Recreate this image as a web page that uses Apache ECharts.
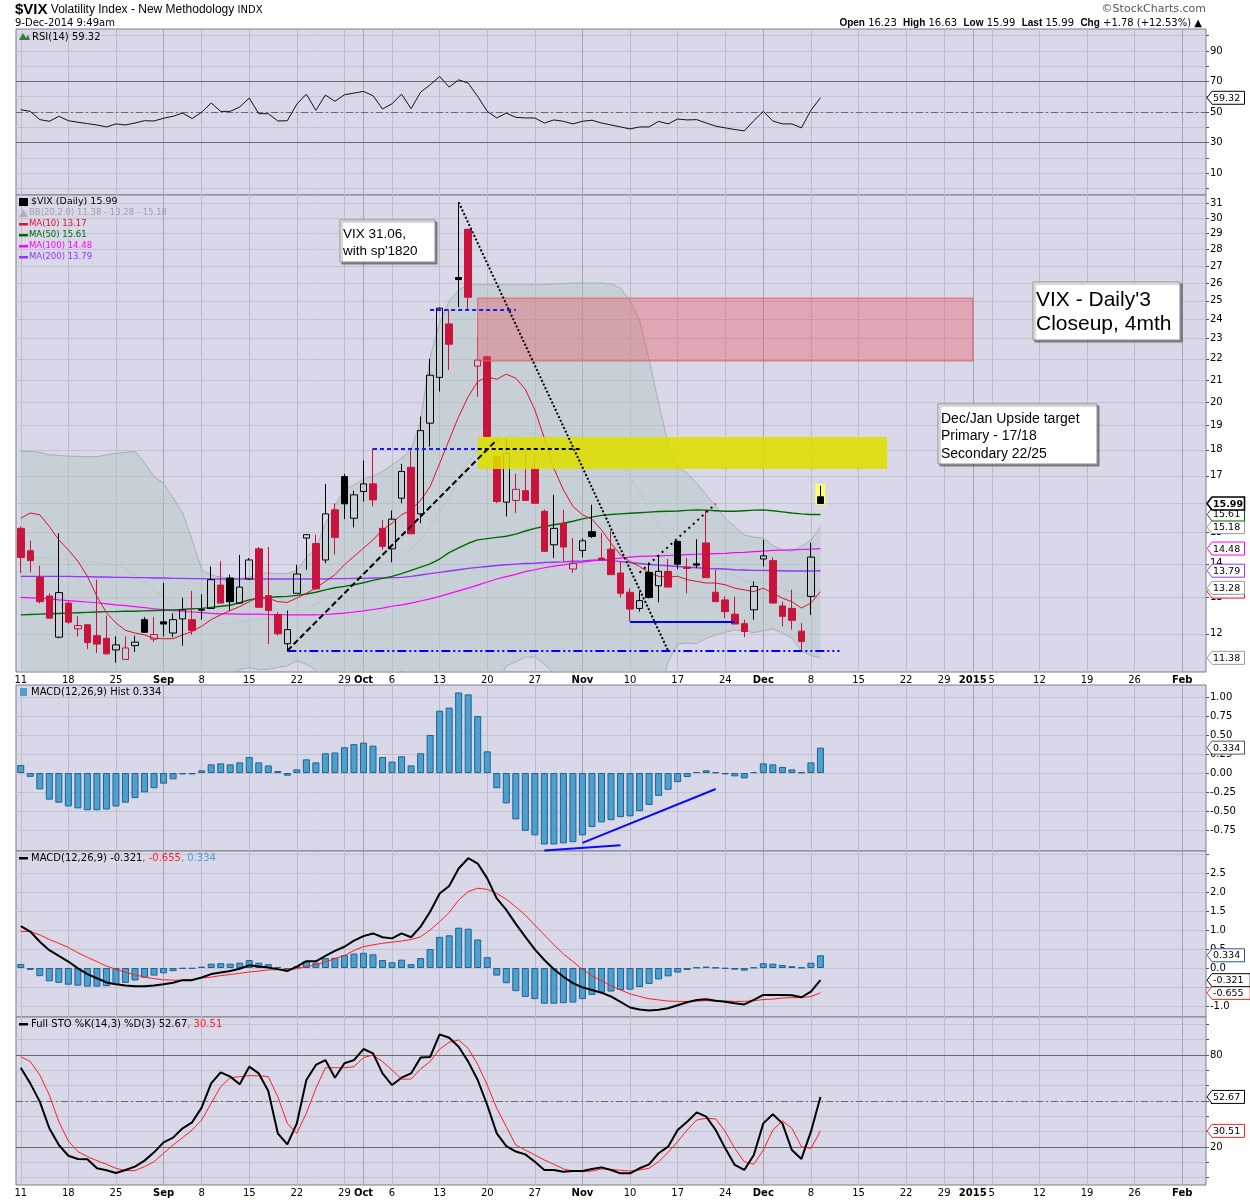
<!DOCTYPE html>
<html>
<head>
<meta charset="utf-8">
<script src="https://cdn.jsdelivr.net/npm/echarts@6/dist/echarts.min.js"></script>
<style>
html,body{margin:0;padding:0;background:#fff}
#chart{width:1250px;height:1200px}
</style>
</head>
<body>
<div id="chart"></div>
<script>
// ---- calendar ----
var firstDay = '2014-08-11';
var dayCount = 125;
var holidays = ['2014-09-01','2014-11-27','2014-12-25'];
var tickDates = ['2014-08-11','2014-08-18','2014-08-25','2014-09-02','2014-09-08','2014-09-15','2014-09-22','2014-09-29','2014-10-01','2014-10-06','2014-10-13','2014-10-20','2014-10-27','2014-11-03','2014-11-10','2014-11-17','2014-11-24','2014-12-01','2014-12-08','2014-12-15','2014-12-22','2014-12-29','2015-01-01','2015-01-05','2015-01-12','2015-01-19','2015-01-26','2015-02-02'];
var tickText = ['11','18','25','Sep','8','15','22','29','Oct','6','13','20','27','Nov','10','17','24','Dec','8','15','22','29','2015','5','12','19','26','Feb'];
var monthTicks = ['Sep','Oct','Nov','Dec','2015','Feb'];

// ---- price (daily candles, Aug 11 - Dec 9 2014) ----
var open  = [15.14,14.41,13.59,13.04,11.91,12.84,12.13,12.24,11.95,11.88, 11.58,11.34,11.69,12.38,11.86,12.32,12.02,12.40,12.38,12.64, 12.69,13.36,13.57,12.84,13.54,14.47,13.05,12.52,11.74,13.12, 14.82,14.64,14.12,15.77,16.97,15.48,16.42,16.70,15.14,14.47, 16.18,17.32,15.63,19.09,21.12,23.76,26.32,29.27,21.65,22.10, 17.73,16.04,16.10,16.45,17.25,15.72,14.60,15.31,13.84,14.42, 15.03,14.18,14.46,13.72,13.15,12.69,13.74,13.34,13.77,14.71, 13.90,14.00,14.66,13.15,12.93,12.53,12.27,12.65,14.15,14.10, 12.76,12.69,12.07,13.03,16.23];
var high  = [15.20,14.73,13.94,13.12,14.98,12.88,12.47,12.25,13.52,12.49, 11.93,11.93,11.95,12.45,12.45,13.42,12.55,12.99,13.19,13.09, 13.92,14.08,13.67,14.28,14.18,14.53,14.53,12.58,12.63,13.97, 14.93,14.93,16.70,16.00,17.07,16.45,17.58,18.06,15.42,15.75, 17.45,17.98,19.37,22.00,24.64,24.53,31.06,29.30,23.10,22.15, 17.75,18.47,17.08,18.02,17.89,15.78,16.30,15.77,14.82,14.81, 15.95,14.98,15.06,14.07,13.26,13.17,14.04,14.28,14.15,14.73, 14.18,14.78,15.77,13.82,13.03,13.02,12.38,13.47,14.76,14.20, 12.88,13.22,12.29,14.67,16.63];
var low   = [13.72,13.74,12.83,12.41,11.88,12.27,11.93,11.60,11.50,11.47, 11.26,11.34,11.53,12.02,11.79,11.93,11.91,11.69,11.97,12.38, 12.69,12.84,12.63,12.82,13.52,12.72,11.73,11.95,11.55,13.12, 13.82,13.22,14.02,14.29,15.45,15.17,16.06,15.89,14.44,14.05, 16.00,14.96,15.31,18.13,20.47,21.46,24.66,24.53,20.23,18.50, 16.00,15.54,15.66,16.10,15.98,14.39,14.18,14.07,13.72,14.20, 14.82,14.13,13.67,13.00,12.33,12.60,12.97,12.86,13.30,13.84, 13.12,13.87,13.58,12.88,12.42,12.26,11.91,12.38,13.92,12.84, 12.20,12.11,11.54,12.51,15.99];
var close = [14.20,14.10,12.88,12.42,13.14,12.31,12.22,11.77,11.73,11.48, 11.71,11.63,11.78,12.04,11.98,12.26,12.38,12.65,12.09,12.66, 13.52,12.84,12.88,13.30,14.12,12.72,12.63,12.00,12.11,13.69, 14.93,13.25,15.63,14.84,15.98,16.30,16.70,16.12,14.55,15.45, 17.16,14.96,18.78,21.22,24.60,22.72,26.20,25.20,21.94,18.54, 16.06,17.86,16.50,16.10,16.00,14.39,15.14,14.53,14.02,14.73, 14.87,14.13,13.67,13.12,12.67,12.91,13.00,13.77,13.30,13.99, 13.86,13.96,13.58,12.88,12.60,12.26,12.06,13.32,14.25,12.84, 12.47,12.36,11.80,14.21,15.99];

// ---- overlays ----
var ma10  = [15.48,15.66,15.60,15.20,14.76,14.44,14.08,13.62,13.03,12.57, 12.29,12.09,12.02,11.97,11.88,11.87,11.87,11.97,12.06,12.20, 12.38,12.51,12.63,12.74,12.88,13.01,12.98,12.88,12.86,12.98, 13.12,13.27,13.47,13.67,13.97,14.23,14.49,14.76,15.09,15.31, 15.60,15.77,16.10,16.60,17.47,18.40,19.37,20.24,20.92,21.15, 21.03,21.27,21.08,20.57,19.66,18.47,17.28,16.48,15.89,15.60, 15.45,15.09,14.65,14.28,14.07,13.92,13.72,13.62,13.60,13.62, 13.52,13.47,13.42,13.42,13.37,13.27,13.22,13.17,13.27,13.12, 12.98,12.88,12.70,12.84,13.17];
var ma50  = [12.51,12.52,12.53,12.54,12.55,12.56,12.57,12.58,12.59,12.60, 12.60,12.61,12.61,12.62,12.63,12.64,12.65,12.66,12.68,12.69, 12.72,12.75,12.78,12.85,12.93,12.98,13.00,13.02,13.03,13.06, 13.10,13.15,13.22,13.28,13.32,13.37,13.43,13.50,13.56,13.62, 13.70,13.80,13.90,14.00,14.15,14.35,14.50,14.65,14.76,14.80, 14.84,14.88,14.95,15.05,15.14,15.20,15.26,15.31,15.38,15.46, 15.52,15.58,15.61,15.63,15.65,15.67,15.69,15.71,15.72,15.73, 15.75,15.77,15.76,15.74,15.72,15.72,15.74,15.76,15.77,15.74, 15.70,15.66,15.63,15.61,15.61];
var ma100 = [13.00,12.99,12.98,12.96,12.93,12.91,12.89,12.87,12.85,12.82, 12.79,12.77,12.74,12.71,12.68,12.66,12.63,12.61,12.59,12.57, 12.55,12.54,12.54,12.53,12.53,12.53,12.52,12.52,12.51,12.51, 12.51,12.51,12.52,12.54,12.56,12.59,12.62,12.66,12.70,12.75, 12.79,12.84,12.90,12.96,13.03,13.11,13.19,13.27,13.36,13.45, 13.54,13.61,13.68,13.76,13.82,13.88,13.93,13.97,14.01,14.05, 14.09,14.12,14.15,14.18,14.21,14.23,14.24,14.25,14.26,14.27, 14.29,14.30,14.31,14.32,14.33,14.35,14.36,14.38,14.40,14.42, 14.43,14.44,14.45,14.46,14.48];
var ma200 = [13.62,13.62,13.62,13.62,13.62,13.62,13.61,13.61,13.60,13.60, 13.59,13.59,13.58,13.58,13.57,13.57,13.56,13.56,13.55,13.55, 13.54,13.54,13.54,13.54,13.54,13.54,13.54,13.54,13.54,13.54, 13.54,13.54,13.54,13.55,13.55,13.56,13.56,13.57,13.57,13.58, 13.59,13.62,13.66,13.70,13.74,13.78,13.82,13.86,13.89,13.92, 13.95,13.97,13.99,14.01,14.02,14.04,14.05,14.06,14.08,14.09, 14.11,14.12,14.10,14.07,14.04,14.01,13.98,13.96,13.94,13.92, 13.90,13.88,13.86,13.85,13.84,13.82,13.81,13.80,13.80,13.79, 13.79,13.78,13.78,13.78,13.79];
var bbUpper = [17.94,17.94,17.90,17.80,17.78,17.75,17.74,17.73,17.73,17.80, 17.86,17.90,17.94,17.50,16.97,16.72,16.20,15.66,14.76,13.82, 13.65,13.60,13.55,13.55,13.60,13.70,13.72,13.70,13.70,13.80, 14.20,14.50,15.30,15.90,16.48,16.66,16.88,16.97,17.16,17.41, 17.67,18.00,19.20,22.10,23.80,25.00,25.60,25.90,25.90,25.90, 25.90,25.90,25.90,25.90,25.90,25.90,25.95,25.95,26.00,26.00, 26.00,26.00,25.95,25.70,25.00,23.97,21.95,19.95,18.26,17.35, 17.10,16.72,16.30,15.89,15.48,15.20,14.92,14.85,14.82,14.57, 14.44,14.39,14.55,14.76,15.18];
var bbMid   = [14.25,14.22,14.20,14.18,14.15,14.12,14.10,14.08,14.05,14.00, 13.95,13.85,13.65,13.45,13.25,13.00,12.80,12.62,12.50,12.37, 12.34,12.27,12.27,12.32,12.37,12.39,12.41,12.42,12.44,12.55, 12.71,12.79,12.98,13.12,13.32,13.53,13.74,13.92,14.04,14.18, 14.36,14.47,14.76,15.16,15.68,16.18,16.86,17.52,18.01,18.26, 18.31,18.54,18.59,18.65,18.65,18.56,18.48,18.40,18.37,18.34, 18.22,18.18,17.92,17.52,16.92,16.43,15.77,15.20,14.77,14.54, 14.43,14.23,14.09,13.93,13.76,13.65,13.50,13.44,13.45,13.35, 13.23,13.14,13.05,13.10,13.28];
var bbLower = [10.56,10.50,10.50,10.56,10.52,10.49,10.46,10.43,10.37,10.20, 10.04,9.80,9.36,9.40,9.53,9.28,9.40,9.58,10.24,10.92, 11.03,10.94,10.99,11.09,11.14,11.08,11.10,11.14,11.18,11.30, 11.22,11.08,10.66,10.34,10.16,10.40,10.60,10.87,10.92,10.95, 11.05,10.94,10.32,8.22,7.56,7.36,8.12,9.14,10.12,10.62, 10.72,11.18,11.28,11.40,11.40,11.22,11.01,10.85,10.74,10.68, 10.44,10.36,9.89,9.34,8.84,8.89,9.59,10.45,11.28,11.73, 11.76,11.74,11.88,11.97,12.04,12.10,12.08,12.03,12.08,12.13, 12.02,11.89,11.55,11.44,11.38];

// ---- indicators ----
var rsi = [51.5,50.4,45.0,43.9,47.2,44.3,43.3,42.4,41.5,40.2, 42.2,41.5,42.8,44.3,44.1,45.9,47.2,49.3,45.7,49.8, 55.9,50.4,50.4,53.3,59.1,48.9,48.9,44.1,44.3,55.2, 61.7,51.1,61.1,57.0,61.3,62.4,63.5,60.7,52.0,55.4, 61.7,52.2,63.0,67.8,73.3,66.3,71.1,68.9,60.2,50.4, 46.1,49.3,46.5,46.1,46.1,42.8,44.8,43.9,42.2,43.9, 44.6,42.8,41.5,40.2,38.9,40.2,40.2,43.9,42.2,45.4, 44.8,45.0,42.8,40.7,39.6,38.5,37.6,44.3,50.4,44.1, 42.2,42.2,39.6,51.1,59.32];
var macdHist = [0.105,-0.05,-0.215,-0.35,-0.39,-0.44,-0.465,-0.49,-0.49,-0.48, -0.44,-0.39,-0.33,-0.255,-0.20,-0.14,-0.083,-0.018,-0.018,0.035, 0.114,0.127,0.114,0.14,0.21,0.14,0.10,0.026,-0.035,0.048, 0.18,0.14,0.26,0.27,0.34,0.38,0.40,0.36,0.21,0.15, 0.22,0.10,0.26,0.50,0.82,0.86,1.06,1.035,0.75,0.285, -0.20,-0.40,-0.61,-0.76,-0.82,-0.94,-0.94,-0.925,-0.91,-0.82, -0.71,-0.65,-0.62,-0.58,-0.57,-0.50,-0.42,-0.30,-0.22,-0.12, -0.053,0.013,0.035,0.009,-0.018,-0.044,-0.07,0.013,0.127,0.114, 0.08,0.048,0.009,0.14,0.334];
var macdLine = [1.10,0.96,0.69,0.47,0.32,0.17,-0.01,-0.16,-0.27,-0.38, -0.43,-0.46,-0.48,-0.48,-0.46,-0.43,-0.39,-0.32,-0.32,-0.25, -0.16,-0.12,-0.08,-0.02,0.07,0.04,0.01,-0.03,-0.08,0.035, 0.18,0.175,0.32,0.45,0.56,0.72,0.84,0.91,0.81,0.78, 0.91,0.81,1.09,1.48,1.96,2.16,2.62,2.89,2.75,2.36, 1.83,1.53,1.16,0.82,0.49,0.21,-0.035,-0.23,-0.40,-0.51, -0.58,-0.65,-0.75,-0.89,-1.04,-1.09,-1.12,-1.10,-1.06,-0.98, -0.90,-0.84,-0.82,-0.86,-0.89,-0.93,-0.96,-0.84,-0.71,-0.71, -0.71,-0.72,-0.77,-0.62,-0.321];
var macdSignal = [0.96,0.96,0.87,0.75,0.65,0.54,0.40,0.28,0.17,0.05, -0.035,-0.11,-0.18,-0.24,-0.28,-0.31,-0.32,-0.32,-0.30,-0.26, -0.24,-0.20,-0.17,-0.14,-0.105,-0.08,-0.05,-0.045,-0.035,-0.02, 0.035,0.08,0.16,0.245,0.33,0.46,0.56,0.61,0.65,0.68, 0.71,0.75,0.82,1.00,1.22,1.46,1.79,2.01,2.10,2.07, 1.96,1.81,1.61,1.39,1.13,0.87,0.61,0.37,0.17,-0.035, -0.21,-0.33,-0.47,-0.58,-0.68,-0.75,-0.81,-0.84,-0.87,-0.88, -0.88,-0.87,-0.86,-0.87,-0.87,-0.88,-0.88,-0.86,-0.83,-0.82, -0.79,-0.78,-0.78,-0.75,-0.655];
var stoK = [71.7,61.5,49.6,32.2,21.3,14.3,12.2,12.0,6.1,4.8, 3.0,5.0,7.2,11.1,16.5,23.0,26.1,32.2,36.1,45.7, 61.5,68.7,65.9,60.9,72.4,68.0,56.5,28.9,21.7,35.4, 63.7,73.5,76.7,65.2,74.6,76.7,83.9,81.1,68.0,60.4, 65.2,68.0,78.3,78.7,93.5,91.3,85.4,75.7,63.7,47.4, 28.9,20.6,17.0,15.2,10.4,5.0,5.0,3.9,4.3,4.3, 5.7,6.7,5.0,2.8,2.8,6.1,8.7,15.9,20.2,31.1, 36.5,42.6,39.8,31.1,19.1,8.3,5.0,14.8,35.4,41.3, 35.4,18.0,12.2,30.0,52.67];
var stoD = [78.9,75.7,67.0,53.9,36.5,23.9,17.0,13.7,11.1,8.7, 6.1,4.6,4.6,7.2,10.4,15.9,21.3,26.1,31.1,37.6, 48.5,59.3,65.2,65.9,66.5,66.5,65.9,52.8,35.4,28.9, 42.0,58.3,71.7,71.7,71.7,72.4,78.3,80.0,75.7,70.2, 64.3,64.3,70.9,75.7,83.9,88.3,89.8,84.3,73.9,60.4, 45.2,33.3,21.3,18.0,14.8,11.5,8.7,5.7,4.3,3.9, 4.3,5.7,5.4,4.8,4.3,5.0,6.1,10.4,16.5,23.5, 31.1,37.6,38.7,38.3,30.0,19.1,10.4,8.7,18.0,31.1, 37.0,32.2,20.2,19.1,30.51];

// ---- axis ticks ----
var rsiLabels = [10,30,50,70,90];
var pctGrid = [0,10,20,30,40,50,60,70,80,90,100];
var priceTicks = [12,13,14,15,16,17,18,19,20,21,22,23,24,25,26,27,28,29,30,31];
var priceLabels = [12,13,14,15,17,18,19,20,21,22,23,24,25,26,27,28,29,30,31];
var histTicks = [-0.75,-0.5,-0.25,0,0.25,0.5,0.75,1.0];
var macdTicks = [-1.0,-0.5,0,0.5,1.0,1.5,2.0,2.5,3.0];
var macdLabels = [-1.0,-0.5,0,0.5,1.0,1.5,2.0,2.5];
var stoLabels = [20,50,80];

var FONT = 'DejaVu Sans';
var ARIAL = 'Liberation Sans';
var GRIDC = '#c2c2d2';
var LN = Math.log;

function buildDays() {
  var out = [];
  var d = new Date(firstDay + 'T00:00:00Z');
  while (out.length < dayCount) {
    var wd = d.getUTCDay();
    var s = d.toISOString().slice(0, 10);
    if (wd !== 0 && wd !== 6 && holidays.indexOf(s) < 0) out.push(s);
    d.setUTCDate(d.getUTCDate() + 1);
  }
  return out;
}
var days = buildDays();
var tickMap = {};
tickDates.forEach(function (d, i) { tickMap[d] = tickText[i]; });

var chart = echarts.init(document.getElementById('chart'), null, {renderer: 'canvas'});

var grids = [
  {left: 16, right: 44, top: 29, height: 166},
  {left: 16, right: 44, top: 195, height: 477},
  {left: 16, right: 44, top: 685, height: 166},
  {left: 16, right: 44, top: 851, height: 166},
  {left: 16, right: 44, top: 1017, height: 168}
].map(function (g) {
  g.show = true; g.backgroundColor = '#d8d8e8'; g.borderColor = '#7c7c88'; g.borderWidth = 1;
  return g;
});

function xAx(gi, showLabel) {
  return {
    type: 'category', gridIndex: gi, data: days, boundaryGap: true,
    axisLine: {show: false}, axisTick: {show: false}, splitLine: {show: false},
    axisLabel: {
      show: showLabel, margin: 3, color: '#000', fontFamily: FONT, fontSize: 10,
      interval: function (i, v) { return tickMap[v] !== undefined; },
      formatter: function (v) {
        var t = tickMap[v];
        if (t === undefined) return '';
        return monthTicks.indexOf(t) >= 0 ? '{b|' + t + '}' : t;
      },
      rich: {b: {fontWeight: 'bold', fontFamily: FONT, fontSize: 10, color: '#000'}}
    }
  };
}
function yAx(gi, min, max, labVals, tickVals, fmt) {
  return {
    type: 'value', gridIndex: gi, position: 'right', min: min, max: max,
    axisLine: {show: false},
    axisTick: {show: true, length: 3, customValues: tickVals, lineStyle: {color: '#555'}},
    axisLabel: {customValues: labVals, formatter: fmt, color: '#000', fontFamily: FONT, fontSize: 10, margin: 4},
    splitLine: {show: true, lineStyle: {color: GRIDC, width: 1}}
  };
}

function vGrid(gi) {
  return {
    type: 'line', xAxisIndex: gi, yAxisIndex: gi, data: [], silent: true, z: 1,
    markLine: {
      silent: true, symbol: 'none', z: 1, animation: false,
      label: {show: false},
      data: tickDates.map(function (d, i) {
        var mon = monthTicks.indexOf(tickText[i]) >= 0;
        return {xAxis: d, lineStyle: {color: mon ? '#a4a4b4' : '#bcbccc', width: 1, type: 'solid'}};
      })
    }
  };
}
function hLine(v, dash) {
  return {yAxis: v, lineStyle: {color: '#6a6a6a', width: 1, type: dash ? [7, 3, 2, 3] : 'solid'}};
}

var candleData = close.map(function (c, i) {
  var o = open[i];
  var up = i > 0 && c >= close[i - 1];
  var col = up ? '#000000' : '#c8143c';
  var fill = c < o ? col : 'rgba(0,0,0,0)';
  return {value: [LN(o), LN(c), LN(low[i]), LN(high[i])],
    itemStyle: {color: fill, color0: fill, borderColor: col, borderColor0: col}};
});

function lnArr(a) { return a.map(LN); }
function lineS(gi, data, color, width, z, type) {
  return {type: 'line', xAxisIndex: gi, yAxisIndex: gi, data: data, symbol: 'none', silent: true, z: z || 3,
    lineStyle: {color: color, width: width, type: type || 'solid'}, animation: false};
}
function pt(i, v) { return {coord: [days[i], LN(v)]}; }

var series = [
  vGrid(0), vGrid(1), vGrid(2), vGrid(3), vGrid(4),
  // RSI
  (function () {
    var s = lineS(0, rsi, '#111', 1, 3);
    s.markLine = {silent: true, symbol: 'none', label: {show: false}, animation: false, z: 2,
      data: [hLine(70), hLine(30), hLine(50, true)]};
    return s;
  })(),
  // Bollinger band shading
  {type: 'line', xAxisIndex: 1, yAxisIndex: 1, data: lnArr(bbLower), stack: 'bb', symbol: 'none', silent: true,
    lineStyle: {opacity: 0}, z: 2, animation: false},
  {type: 'line', xAxisIndex: 1, yAxisIndex: 1, stack: 'bb', symbol: 'none', silent: true, z: 2, animation: false,
    data: bbUpper.map(function (u, i) { return LN(u) - LN(bbLower[i]); }),
    lineStyle: {opacity: 0}, areaStyle: {color: 'rgba(180,200,195,0.45)', opacity: 1}},
  lineS(1, lnArr(bbUpper), '#a9aeb4', 1, 2),
  lineS(1, lnArr(bbLower), '#a9aeb4', 1, 2),
  lineS(1, lnArr(bbMid), '#b9b9c4', 1, 2, 'dotted'),
  lineS(1, lnArr(ma200), '#9933ff', 1.4, 3),
  lineS(1, lnArr(ma100), '#ff00ff', 1.2, 3),
  lineS(1, lnArr(ma50), '#006a00', 1.4, 3),
  lineS(1, lnArr(ma10), '#e0102a', 1, 3),
  // highlight behind the last candle
  {type: 'scatter', xAxisIndex: 1, yAxisIndex: 1, data: [], silent: true, z: 2,
    markPoint: {silent: true, symbol: 'rect', symbolSize: [10, 21], label: {show: false}, animation: false, z: 2,
      itemStyle: {color: '#ffff66'}, data: [{coord: [days[84], LN(16.31)]}]}},
  {type: 'candlestick', xAxisIndex: 1, yAxisIndex: 1, data: candleData, barWidth: 7, z: 4, silent: true,
    animation: false, itemStyle: {borderWidth: 1}},
  // zones & drawn lines
  {type: 'line', xAxisIndex: 1, yAxisIndex: 1, data: [], silent: true, z: 5,
    markArea: {silent: true, animation: false, z: 5, data: [
      [{coord: [days[48], LN(25.15)], itemStyle: {color: 'rgba(235,80,90,0.36)', borderColor: '#e06070', borderWidth: 1}},
       {coord: [days[100], LN(21.9)]}],
      [{coord: [days[48], LN(18.52)], itemStyle: {color: 'rgba(222,222,0,0.88)'}},
       {coord: [days[91], LN(17.26)]}]
    ]},
    markLine: {silent: true, symbol: 'none', animation: false, label: {show: false}, z: 6, data: [
      [pt(43, 24.54), pt(52, 24.54)].map(function (p) { p.lineStyle = {color: '#1a1aff', width: 2, type: [4, 3]}; return p; }),
      [pt(37, 18.03), pt(48, 18.03)].map(function (p) { p.lineStyle = {color: '#1a1aff', width: 2, type: [4, 3]}; return p; }),
      [pt(48, 18.03), pt(59, 18.03)].map(function (p) { p.lineStyle = {color: '#000', width: 2, type: [4, 3]}; return p; }),
      [pt(28, 11.56), pt(86, 11.56)].map(function (p) { p.lineStyle = {color: '#0000ff', width: 2, type: [9, 3, 2, 3, 2, 3]}; return p; }),
      [pt(28, 11.56), pt(50, 18.4)].map(function (p) { p.lineStyle = {color: '#000', width: 2, type: [6, 3]}; return p; }),
      [pt(46, 31.06), pt(68, 11.56)].map(function (p) { p.lineStyle = {color: '#000', width: 2, type: [2, 2]}; return p; }),
      [pt(65, 13.73), pt(73, 15.98)].map(function (p) { p.lineStyle = {color: '#000', width: 2, type: [2, 4]}; return p; }),
      [pt(64, 12.33), pt(75, 12.33)].map(function (p) { p.lineStyle = {color: '#0000ff', width: 2, type: 'solid'}; return p; })
    ]}
  },
  // MACD histogram panel
  {type: 'bar', xAxisIndex: 2, yAxisIndex: 2, data: macdHist, barWidth: 7, silent: true, z: 3, animation: false,
    itemStyle: {color: '#4c9fcf', borderColor: '#1f6390', borderWidth: 1},
    markLine: {silent: true, symbol: 'none', animation: false, label: {show: false}, z: 6, data: [
      [{coord: [days[59], -0.92]}, {coord: [days[73], -0.21]}],
      [{coord: [days[55], -1.02]}, {coord: [days[63], -0.95]}]
    ], lineStyle: {color: '#0a0aff', width: 2, type: 'solid'}}},
  // MACD panel
  {type: 'bar', xAxisIndex: 3, yAxisIndex: 3, data: macdHist, barWidth: 7, silent: true, z: 3, animation: false,
    itemStyle: {color: '#4c9fcf', borderColor: '#1f6390', borderWidth: 1}},
  lineS(3, macdSignal, '#ff2020', 1, 4),
  lineS(3, macdLine, '#000', 2, 4),
  // Stochastics
  (function () {
    var s = lineS(4, stoD, '#ff2020', 1, 3);
    s.markLine = {silent: true, symbol: 'none', label: {show: false}, animation: false, z: 2,
      data: [hLine(80), hLine(20), hLine(50, true)]};
    return s;
  })(),
  lineS(4, stoK, '#000', 2, 4)
];

chart.setOption({
  animation: false,
  grid: grids,
  xAxis: [xAx(0, false), xAx(1, true), xAx(2, false), xAx(3, false), xAx(4, true)],
  yAxis: [
    yAx(0, -4.4, 104.4, rsiLabels, pctGrid, function (v) { return String(Math.round(v)); }),
    yAx(1, LN(11.03), LN(31.57), priceLabels.map(LN), priceTicks.map(LN), function (v) { return String(Math.round(Math.exp(v))); }),
    yAx(2, -1.026, 1.158, histTicks, histTicks, function (v) { return v.toFixed(2); }),
    yAx(3, -1.29, 3.08, macdLabels, macdTicks, function (v) { return v.toFixed(1); }),
    yAx(4, -4.8, 104.8, stoLabels, pctGrid, function (v) { return String(Math.round(v)); })
  ],
  series: series
});

// ---- value tags on the right axis ----
var tagZ = 100;
function tag(axisIdx, val, txt, border, textColor, bold) {
  var y = chart.convertToPixel({yAxisIndex: axisIdx}, val);
  var w = 9 + 5.7 * txt.length;
  tagZ += 2;
  return {type: 'group', x: 1207, y: y, children: [
    {type: 'polygon', z: tagZ, shape: {points: [[0, 0], [5, -6.5], [w, -6.5], [w, 6.5], [5, 6.5]]},
      style: {fill: '#fff', stroke: border, lineWidth: bold ? 1.6 : 1}},
    {type: 'text', z: tagZ + 1, x: 6, y: 0.5, style: {text: txt, fill: textColor || '#000', font: (bold ? 'bold ' : '') + '9.5px ' + FONT, verticalAlign: 'middle'}}
  ]};
}
function txt(x, y, str, size, color, weight, extra) {
  var s = {text: str, fill: color || '#000', font: (weight || 'normal') + ' ' + size + 'px ' + FONT, verticalAlign: 'middle'};
  if (extra) for (var k in extra) s[k] = extra[k];
  return {type: 'text', x: x, y: y, z: 100, style: s};
}
function dash(x, y, color) {
  return {type: 'rect', x: x, y: y - 1, z: 100, shape: {width: 9, height: 2.5}, style: {fill: color}};
}
function box(x, y, w, h, lines, size, lineH) {
  var kids = [{type: 'rect', z: 90, shape: {x: 0, y: 0, width: w, height: h},
    style: {fill: '#fff', stroke: '#8a8a8a', lineWidth: 1, shadowColor: 'rgba(0,0,0,0.35)', shadowOffsetX: 2, shadowOffsetY: 2, shadowBlur: 1}}];
  lines.forEach(function (l, i) {
    kids.push({type: 'text', z: 91, x: 3, y: 6 + lineH * i + lineH / 2,
      style: {text: l, fill: '#000', font: size + 'px ' + ARIAL, verticalAlign: 'middle'}});
  });
  return {type: 'group', x: x, y: y, children: kids};
}

var g = [];
// header
g.push({type: 'text', x: 15, y: 10, z: 100, style: {
  text: '{a|$VIX} {b|Volatility Index - New Methodology} {c|INDX}', verticalAlign: 'middle',
  rich: {a: {font: 'bold 15px ' + ARIAL, fill: '#000'}, b: {font: '12px ' + ARIAL, fill: '#000'}, c: {font: '10px ' + FONT, fill: '#000'}}}});
g.push(txt(15, 23, '9-Dec-2014 9:49am', 10, '#000'));
g.push(txt(1206, 9, '\u00a9StockCharts.com', 11, '#555', 'normal', {align: 'right'}));
g.push({type: 'text', x: 1202, y: 23, z: 100, style: {
  text: '{k|Open} 16.23  {k|High} 16.63  {k|Low} 15.99  {k|Last} 15.99  {k|Chg} +1.78 (+12.53%) \u25b2',
  align: 'right', verticalAlign: 'middle', font: '10px ' + FONT, fill: '#000',
  rich: {k: {font: 'bold 10px ' + ARIAL, fill: '#000'}}}});
// panel legends
g.push({type: 'polygon', z: 100, shape: {points: [[19, 40], [23, 33], [26, 38], [28, 35], [30, 40]]}, style: {fill: '#3a7a3a'}});
g.push(txt(32, 37, 'RSI(14) 59.32', 10, '#000'));
g.push({type: 'rect', z: 100, shape: {x: 19, y: 198, width: 9, height: 8}, style: {fill: '#000'}});
g.push(txt(31, 202, '$VIX (Daily) 15.99', 9.5, '#000'));
g.push(txt(29, 213, 'BB(20,2.0) 11.38 - 13.28 - 15.18', 8.5, '#a0a0a8'));
g.push({type: 'polygon', z: 100, shape: {points: [[19, 217], [23, 209], [26, 213], [28, 217]]}, style: {fill: '#b0b0b8'}});
[['MA(10) 13.17', '#e0102a'], ['MA(50) 15.61', '#006a00'], ['MA(100) 14.48', '#ff00ff'], ['MA(200) 13.79', '#9933ff']].forEach(function (m, i) {
  var y = 224 + i * 11;
  g.push(dash(19, y, m[1]));
  g.push(txt(29, y, m[0], 8.5, m[1]));
});
g.push(txt(31, 692, 'MACD(12,26,9) Hist 0.334', 10, '#000'));
g.push({type: 'rect', z: 100, shape: {x: 20, y: 688, width: 7, height: 8}, style: {fill: '#4c9fcf'}});
g.push(dash(19, 858, '#000'));
g.push({type: 'text', x: 31, y: 858, z: 100, style: {
  text: 'MACD(12,26,9) -0.321{r|, -0.655}{b|, 0.334}', verticalAlign: 'middle', font: '10px ' + FONT, fill: '#000',
  rich: {r: {font: '10px ' + FONT, fill: '#ff2020'}, b: {font: '10px ' + FONT, fill: '#4c9fcf'}}}});
g.push(dash(19, 1024, '#000'));
g.push({type: 'text', x: 31, y: 1024, z: 100, style: {
  text: 'Full STO %K(14,3) %D(3) 52.67{r|, 30.51}', verticalAlign: 'middle', font: '10px ' + FONT, fill: '#000',
  rich: {r: {font: '10px ' + FONT, fill: '#ff2020'}}}});
// annotation boxes
g.push(box(340, 220, 95, 42, ['VIX 31.06,', "with sp'1820"], 13.5, 17));
g.push(box(1033, 282, 147, 58, ["VIX - Daily'3", 'Closeup, 4mth'], 21, 24));
g.push(box(938, 404, 159, 60, ['Dec/Jan Upside target', 'Primary - 17/18', 'Secondary 22/25'], 14, 17.5));
// right axis tags (later ones sit on top)
g.push(tag(0, 59.32, '59.32', '#000'));
g.push(tag(1, LN(11.38), '11.38', '#999'));
g.push(tag(1, LN(13.17), '13.17', '#e0102a'));
g.push(tag(1, LN(13.28), '13.28', '#999'));
g.push(tag(1, LN(13.79), '13.79', '#9933ff'));
g.push(tag(1, LN(14.48), '14.48', '#ff00ff'));
g.push(tag(1, LN(15.18), '15.18', '#999'));
g.push(tag(1, LN(15.61), '15.61', '#006a00'));
g.push(tag(1, LN(15.99), '15.99', '#000', '#000', true));
g.push(tag(2, 0.334, '0.334', '#555'));
g.push(tag(3, 0.334, '0.334', '#3050a0', '#000'));
g.push(tag(3, -0.655, '-0.655', '#ff2020'));
g.push(tag(3, -0.321, '-0.321', '#000'));
g.push(tag(4, 52.67, '52.67', '#000'));
g.push(tag(4, 30.51, '30.51', '#ff2020'));

chart.setOption({graphic: {elements: g}});
</script>
</body>
</html>
